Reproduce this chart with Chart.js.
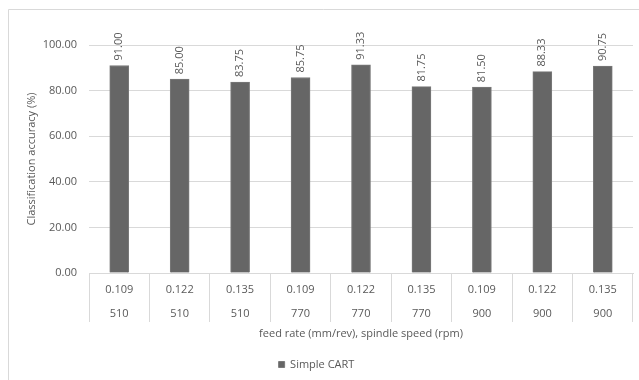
<!DOCTYPE html>
<html>
<head>
<meta charset="utf-8">
<script src="https://cdn.jsdelivr.net/npm/chart.js@4.4.1/dist/chart.umd.min.js"></script>
<style>
  html, body { margin: 0; padding: 0; background: #fff; }
  #wrap { position: relative; width: 639px; height: 380px; }
</style>
</head>
<body>
<div id="wrap"><canvas id="c" width="639" height="380"></canvas></div>
<script>
// Cutting conditions (feed rate, spindle speed) and CART accuracy per condition
const feedRates = ['0.109', '0.122', '0.135', '0.109', '0.122', '0.135', '0.109', '0.122', '0.135'];
const spindleSpeeds = ['510', '510', '510', '770', '770', '770', '900', '900', '900'];
const accuracy = [91.00, 85.00, 83.75, 85.75, 91.33, 81.75, 81.50, 88.33, 90.75];
const yTicks = [0, 20, 40, 60, 80, 100];

const FONT = '"Open Sans", "Liberation Sans", sans-serif';
const TEXT = '#595959';
const GRID = '#d9d9d9';

const labels = feedRates.map((f, i) => [f, spindleSpeeds[i]]);

// White background plus the outer chart frame
const framePlugin = {
  id: 'frame',
  beforeDraw(chart) {
    const ctx = chart.ctx;
    ctx.save();
    ctx.fillStyle = '#fff';
    ctx.fillRect(0, 0, chart.width, chart.height);
    ctx.strokeStyle = GRID;
    ctx.lineWidth = 1;
    ctx.beginPath();
    ctx.moveTo(8.5, chart.height);
    ctx.lineTo(8.5, 9.5);
    ctx.lineTo(chart.width, 9.5);
    ctx.stroke();
    ctx.restore();
  }
};

// Rotated value labels above each bar
const valueLabels = {
  id: 'valueLabels',
  afterDatasetsDraw(chart) {
    const ctx = chart.ctx;
    const meta = chart.getDatasetMeta(0);
    ctx.save();
    ctx.fillStyle = TEXT;
    ctx.font = '11px ' + FONT;
    ctx.textAlign = 'left';
    ctx.textBaseline = 'middle';
    meta.data.forEach((bar, i) => {
      const v = chart.data.datasets[0].data[i];
      ctx.save();
      ctx.translate(bar.x, bar.y - 5);
      ctx.rotate(-Math.PI / 2);
      ctx.fillText(v.toFixed(2), 0, 0);
      ctx.restore();
    });
    ctx.restore();
  }
};

new Chart(document.getElementById('c'), {
  type: 'bar',
  data: {
    labels: labels,
    datasets: [{
      label: 'Simple CART',
      data: accuracy,
      backgroundColor: '#666666',
      borderColor: '#7a7a7a',
      borderWidth: 1,
      barThickness: 19
    }]
  },
  options: {
    responsive: false,
    animation: false,
    devicePixelRatio: 1,
    layout: { padding: { left: 0, right: 6, top: 45, bottom: 0 } },
    plugins: {
      legend: {
        position: 'bottom',
        labels: {
          color: TEXT,
          font: { family: FONT, size: 11 },
          boxWidth: 6,
          boxHeight: 6,
          padding: 8
        }
      },
      tooltip: { enabled: false }
    },
    scales: {
      x: {
        offset: true,
        grid: {
          offset: true,
          drawOnChartArea: false,
          drawTicks: true,
          tickLength: 49,
          color: GRID
        },
        border: { display: true, color: GRID },
        ticks: {
          color: TEXT,
          font: { family: FONT, size: 11, lineHeight: 2.25 },
          padding: -45,
          maxRotation: 0,
          autoSkip: false
        },
        title: {
          display: true,
          text: 'feed rate (mm/rev), spindle speed (rpm)',
          color: TEXT,
          font: { family: FONT, size: 11 },
          padding: { top: 0, bottom: 11 }
        },
        afterFit(s) { s.height = 78; }
      },
      y: {
        min: 0,
        max: 100,
        afterBuildTicks(s) { s.ticks = yTicks.map(v => ({ value: v })); },
        grid: { color: GRID, drawTicks: false },
        border: { display: false },
        ticks: {
          color: TEXT,
          font: { family: FONT, size: 11 },
          padding: 12,
          callback: v => Number(v).toFixed(2)
        },
        title: {
          display: true,
          text: 'Classification accuracy (%)',
          color: TEXT,
          font: { family: FONT, size: 11 },
          padding: { top: 25, bottom: 0 }
        },
        afterFit(s) { s.width = 89; }
      }
    }
  },
  plugins: [framePlugin, valueLabels]
});
</script>
</body>
</html>
